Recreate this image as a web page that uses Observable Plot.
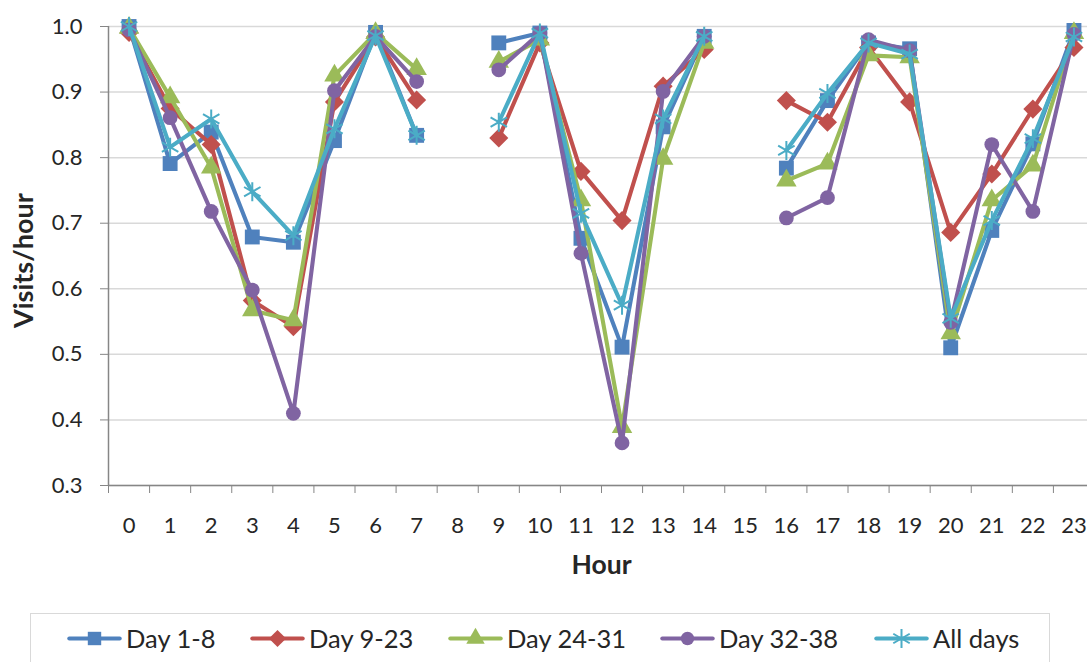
<!DOCTYPE html>
<html><head><meta charset="utf-8">
<script src="https://cdn.jsdelivr.net/npm/d3@7"></script>
<script src="https://cdn.jsdelivr.net/npm/@observablehq/plot@0.6"></script>
<style>
html,body{margin:0;padding:0;background:#fff;overflow:hidden;width:1087px;height:662px;font-family:Lato,"Open Sans",sans-serif;}
#chart{position:absolute;left:0;top:0;}
#legend{position:absolute;left:30px;top:613px;width:1020px;height:70px;border:1.5px solid #d9d9d9;box-sizing:border-box;}
.item{position:absolute;top:9px;height:30px;display:flex;align-items:center;font-size:25.5px;color:#262626;white-space:nowrap;}
.item svg{margin-right:4px;}
</style>
</head><body>
<div id="chart"></div>
<div id="legend"></div>
<script>
const hourLabels = ["0","1","2","3","4","5","6","7","8","9","10","11","12","13","14","15","16","17","18","19","20","21","22","23"];
const hours = [0,1,2,3,4,5,6,7,8,9,10,11,12,13,14,15,16,17,18,19,20,21,22,23];
const yTicks = [0.3,0.4,0.5,0.6,0.7,0.8,0.9,1.0];
const seriesNames = ["Day 1-8","Day 9-23","Day 24-31","Day 32-38","All days"];
const day1to8   = [1.000,0.791,0.839,0.679,0.671,0.826,0.991,0.834,null,0.975,0.990,0.677,0.511,0.847,0.985,null,0.784,0.887,0.975,0.966,0.510,0.689,0.821,0.994];
const day9to23  = [0.991,0.875,0.820,0.582,0.542,0.885,0.984,0.888,null,0.830,0.975,0.779,0.704,0.909,0.965,null,0.887,0.854,0.968,0.885,0.686,0.775,0.874,0.968];
const day24to31 = [0.998,0.892,0.785,0.567,0.552,0.925,0.990,0.935,null,0.946,0.980,0.735,0.389,0.798,0.975,null,0.765,0.791,0.956,0.953,0.532,0.735,0.788,0.990];
const day32to38 = [0.995,0.861,0.718,0.598,0.410,0.902,0.985,0.916,null,0.934,0.990,0.654,0.365,0.901,0.985,null,0.708,0.739,0.980,0.963,0.549,0.820,0.718,0.988];
const allDays   = [1.000,0.816,0.859,0.748,0.681,0.844,0.986,0.834,null,0.854,0.990,0.715,0.575,0.859,0.985,null,0.811,0.898,0.975,0.958,0.555,0.704,0.829,0.984];

const seriesValues = [day1to8, day9to23, day24to31, day32to38, allDays];
const colors = ["#4F81BD","#C0504D","#9BBB59","#8064A2","#4BACC6"];
const symbols = ["square","diamond2","triangle","circle","asterisk"];
const radii = [8.4,8.6,7.6,7.4,9];

const boundaries = d3.range(-0.5, 24, 1);
const axisGray = "#868686";
const textColor = "#262626";
const lineW = 4.1;

const marks = [
  Plot.gridY(yTicks, {stroke:"#d9d9d9", strokeOpacity:1, strokeWidth:1.5}),
  Plot.ruleY([0.3], {stroke:axisGray, strokeWidth:1.5}),
  Plot.ruleX([-0.5], {stroke:axisGray, strokeWidth:1.5}),
  Plot.axisY({ticks:yTicks, tickFormat:d3.format(".1f"), tickSize:8, tickPadding:18, fontSize:22, stroke:axisGray, fill:textColor, label:null}),
  Plot.axisX({ticks:boundaries, tickSize:8, tickFormat:() => "", stroke:axisGray, label:null}),
  Plot.axisX({ticks:hours, tickSize:0, tickPadding:32, tickFormat:i => hourLabels[i], fontSize:22, fill:textColor, label:null}),
];

seriesValues.forEach((vals, k) => {
  const rows = hours.map((h, i) => ({hour:h, v:vals[i]}));
  marks.push(Plot.line(rows, {x:"hour", y:"v", stroke:colors[k], strokeWidth:lineW, strokeLinejoin:"round", strokeLinecap:"round"}));
  const pts = rows.filter(d => d.v != null);
  if (symbols[k] === "asterisk") {
    marks.push(Plot.dot(pts, {x:"hour", y:"v", symbol:"asterisk", r:radii[k], stroke:colors[k], strokeWidth:2, fill:"none"}));
  } else {
    marks.push(Plot.dot(pts, {x:"hour", y:"v", symbol:symbols[k], r:radii[k], fill:colors[k], stroke:"none"}));
  }
});

marks.push(Plot.text(["Visits/hour"], {x:-0.5, y:0.643, dx:-84, rotate:-90, text:d => d, fontSize:27, fontWeight:"bold", fill:textColor}));
marks.push(Plot.text(["Hour"], {x:11.5, y:0.3, dy:80, text:d => d, fontSize:26.5, fontWeight:"bold", fill:textColor}));

const chart = Plot.plot({
  width:1087, height:600,
  marginLeft:108, marginRight:0, marginTop:26, marginBottom:115,
  style:{fontFamily:"Lato, 'Open Sans', sans-serif", background:"#fff", overflow:"visible"},
  x:{type:"linear", domain:[-0.5,23.5], range:[108,1094]},
  y:{domain:[0.3,1.0]},
  marks
});
document.getElementById("chart").appendChild(chart);

// legend
const legend = document.getElementById("legend");
const lefts = [35, 218, 416, 628, 842];
seriesNames.forEach((name, k) => {
  const item = document.createElement("div");
  item.className = "item";
  item.style.left = lefts[k] + "px";
  const sw = Plot.plot({
    width:56, height:30, margin:0,
    x:{domain:[0,1]}, y:{domain:[0,1]}, axis:null,
    style:{background:"transparent", overflow:"visible"},
    marks:[
      Plot.line([{a:0.05,b:0.5},{a:0.95,b:0.5}], {x:"a", y:"b", stroke:colors[k], strokeWidth:lineW, strokeLinecap:"round"}),
      symbols[k] === "asterisk"
        ? Plot.dot([{a:0.5,b:0.5}], {x:"a", y:"b", symbol:"asterisk", r:radii[k], stroke:colors[k], strokeWidth:2, fill:"none"})
        : Plot.dot([{a:0.5,b:0.5}], {x:"a", y:"b", symbol:symbols[k], r:radii[k]*0.9, fill:colors[k], stroke:"none"})
    ]
  });
  item.appendChild(sw);
  const t = document.createElement("span");
  t.textContent = name;
  item.appendChild(t);
  legend.appendChild(item);
});
</script>
</body></html>
